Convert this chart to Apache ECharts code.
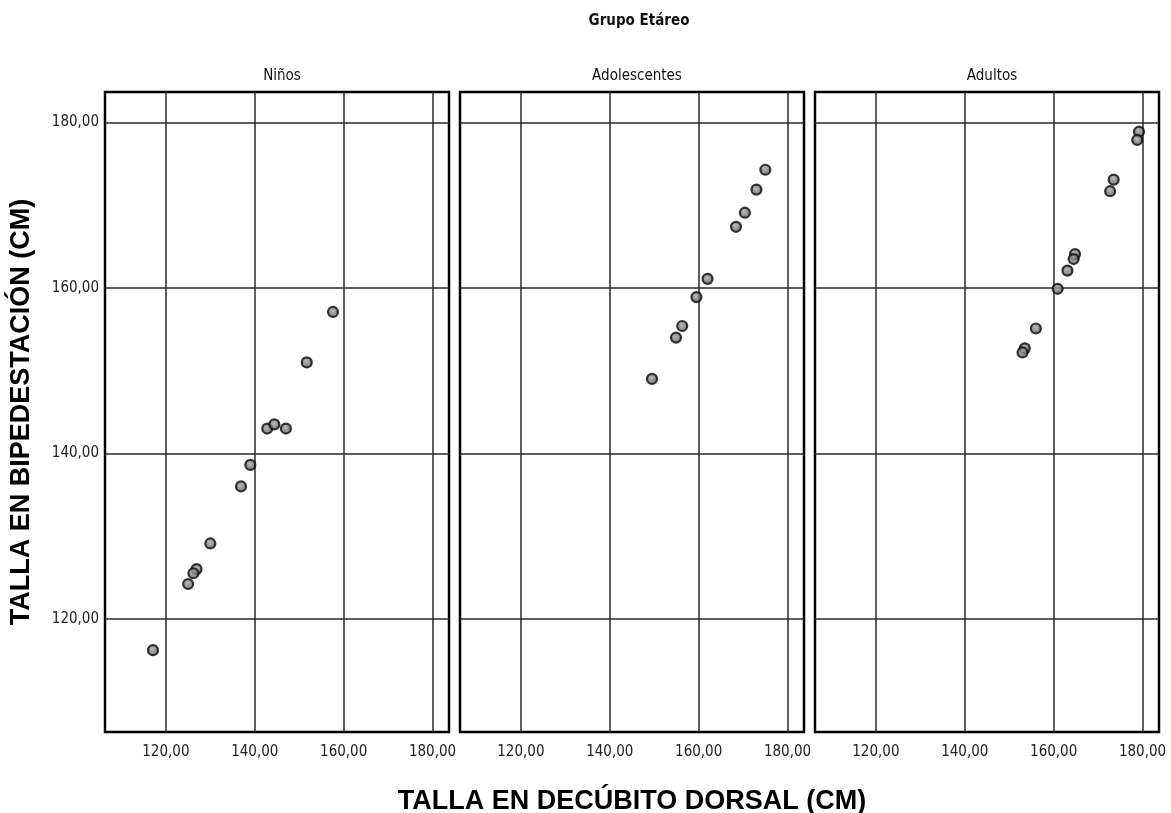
<!DOCTYPE html>
<html>
<head>
<meta charset="utf-8">
<script src="https://cdn.jsdelivr.net/npm/echarts@6/dist/echarts.min.js"></script>
<style>
  html, body { margin: 0; padding: 0; background: #fff; }
  #chart { width: 1171px; height: 813px; }
</style>
</head>
<body>
<div id="chart"></div>
<script>
// Facet titles and shared tick values
const groupNames = ['Niños', 'Adolescentes', 'Adultos'];
const xTicks = [120, 140, 160, 180];
const yTicks = [120, 140, 160, 180];

// Talla en decúbito dorsal (x) vs. talla en bipedestación (y), cm
const ninosX = [157.6, 151.7, 142.8, 144.4, 147.0, 139.0, 136.9, 130.0, 126.9, 126.2, 125.0, 117.1];
const ninosY = [157.1, 151.0, 143.0, 143.5, 143.0, 138.6, 136.0, 129.1, 126.0, 125.5, 124.2, 116.2];

const adolX = [175.0, 173.0, 170.4, 168.4, 162.0, 159.5, 156.3, 154.9, 149.5];
const adolY = [174.3, 171.9, 169.1, 167.4, 161.1, 158.9, 155.4, 154.0, 149.0];

const adulX = [179.2, 178.8, 173.5, 172.7, 164.8, 164.5, 163.1, 160.9, 156.0, 153.5, 153.0];
const adulY = [178.9, 177.9, 173.1, 171.7, 164.1, 163.5, 162.1, 159.9, 155.1, 152.7, 152.2];

const axisMin = 106.3;
const axisMax = 183.7;

const narrow = '"Liberation Sans Narrow", "Arial Narrow", "DejaVu Sans Condensed", "Liberation Sans", Arial, sans-serif';
const wide = '"Liberation Sans", Arial, sans-serif';

const pairs = (xs, ys) => xs.map((x, i) => [x, ys[i]]);
const seriesData = [pairs(ninosX, ninosY), pairs(adolX, adolY), pairs(adulX, adulY)];

const panelLeft = [105, 460, 815];
const panelWidth = 344;
const panelTop = 92;
const panelHeight = 640;

const fmt = v => v.toFixed(2).replace('.', ',');

const grids = panelLeft.map(l => ({
  left: l, top: panelTop, width: panelWidth, height: panelHeight,
  outerBoundsMode: 'none', containLabel: false,
  show: true, borderColor: '#000', borderWidth: 2.5, backgroundColor: 'transparent'
}));

const xAxes = panelLeft.map((l, i) => ({
  type: 'value', gridIndex: i, min: axisMin, max: axisMax,
  axisLine: { show: false },
  axisTick: { show: false, customValues: xTicks },
  axisLabel: { customValues: xTicks, formatter: fmt, color: '#222', fontSize: 15, fontFamily: narrow, margin: 13 },
  splitLine: { show: true, lineStyle: { color: '#2a2a2a', width: 1.5 } },
  name: i === 1 ? 'TALLA EN DECÚBITO DORSAL (CM)' : '',
  nameLocation: 'middle', nameGap: 56,
  nameTextStyle: { fontSize: 27, fontWeight: 'bold', color: '#000', fontFamily: wide }
}));

const yAxes = panelLeft.map((l, i) => ({
  type: 'value', gridIndex: i, min: axisMin, max: axisMax,
  axisLine: { show: false },
  axisTick: { show: false, customValues: yTicks },
  axisLabel: { show: i === 0, customValues: yTicks, formatter: fmt, color: '#222', fontSize: 15, fontFamily: narrow, margin: 6 },
  splitLine: { show: true, lineStyle: { color: '#2a2a2a', width: 1.5 } },
  name: i === 0 ? 'TALLA EN BIPEDESTACIÓN (CM)' : '',
  nameLocation: 'middle', nameGap: 70, nameRotate: 90,
  nameTextStyle: { fontSize: 27, fontWeight: 'bold', color: '#000', fontFamily: wide }
}));

const dotFill = {
  type: 'radial', x: 0.45, y: 0.4, r: 0.6,
  colorStops: [{ offset: 0, color: '#a8a8a8' }, { offset: 1, color: '#505050' }]
};

const series = seriesData.map((d, i) => ({
  type: 'scatter', xAxisIndex: i, yAxisIndex: i, data: d,
  symbol: 'circle', symbolSize: 10,
  itemStyle: { color: dotFill, borderColor: '#0a0a0a', borderWidth: 2.2 },
  silent: true
}));

const titles = [{
  text: 'Grupo Etáreo', left: 634, top: 9, textAlign: 'center',
  textStyle: { fontSize: 15, fontWeight: 'bold', color: '#111', fontFamily: narrow }
}].concat(groupNames.map((n, i) => ({
  text: n, left: panelLeft[i] + panelWidth / 2, top: 64, textAlign: 'center',
  textStyle: { fontSize: 15, fontWeight: 'normal', color: '#111', fontFamily: narrow }
})));

const chart = echarts.init(document.getElementById('chart'), null, { renderer: 'canvas' });
chart.setOption({
  backgroundColor: '#fff',
  animation: false,
  title: titles,
  grid: grids,
  xAxis: xAxes,
  yAxis: yAxes,
  series: series
});
</script>
</body>
</html>
